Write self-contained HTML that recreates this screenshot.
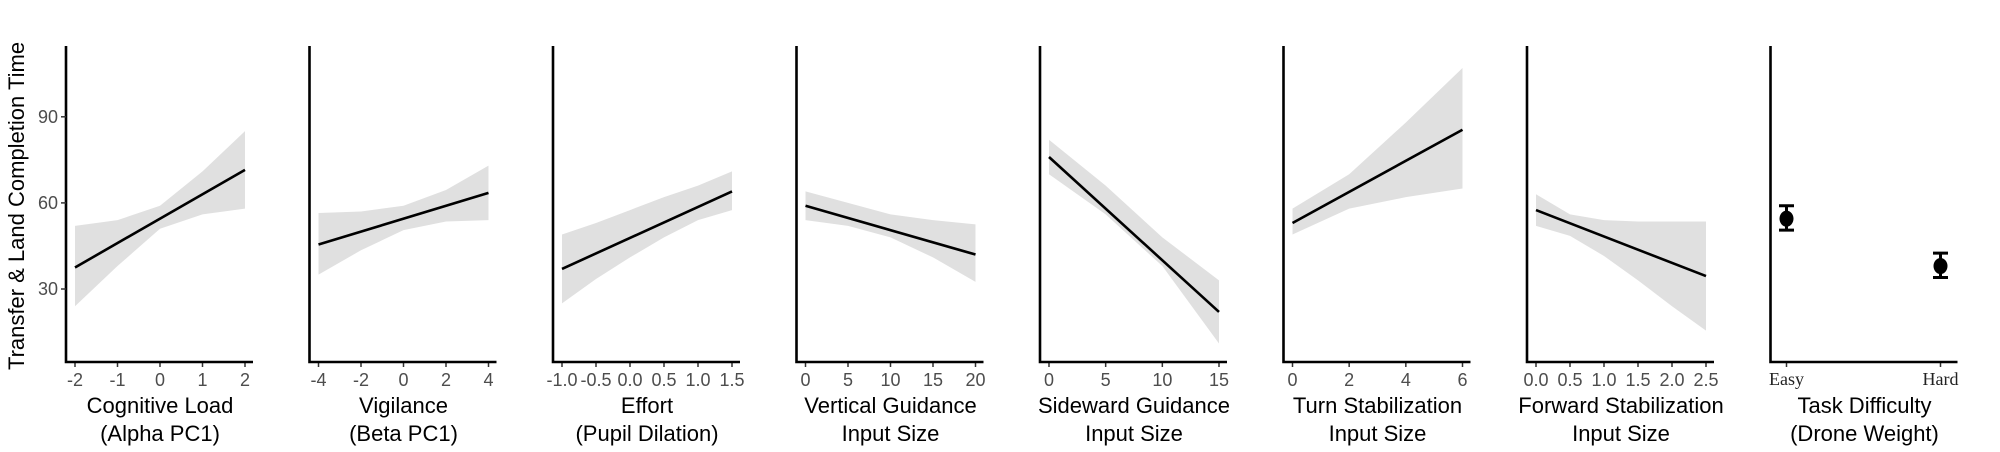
<!DOCTYPE html>
<html><head><meta charset="utf-8"><style>
html,body{margin:0;padding:0;background:#fff;}
svg{display:block;}
</style></head><body>
<svg id="chart" width="2000" height="452" viewBox="0 0 2000 452" xmlns="http://www.w3.org/2000/svg">
<text transform="translate(24,206) rotate(-90)" text-anchor="middle" font-family="Liberation Sans, sans-serif" font-size="22" fill="#000">Transfer &amp; Land Completion Time</text>
</svg>
<script>
// y scale shared
const yTicks = [30, 60, 90];
// panel data
const p1X = [-2, -1, 0, 1, 2], p1Up = [52, 54, 59, 71, 85], p1Lo = [24, 38, 51, 56, 58], p1Line = [37.5, 71.5];
const p2X = [-4, -2, 0, 2, 4], p2Up = [56.5, 57, 59, 64.5, 73], p2Lo = [35, 43.5, 50.5, 53.5, 54], p2Line = [45.5, 63.5];
const p3X = [-1, -0.5, 0, 0.5, 1, 1.5], p3Up = [49, 53, 57.5, 62, 66, 71], p3Lo = [25, 33.5, 41, 48, 54, 57.5], p3Line = [37, 64];
const p4X = [0, 5, 10, 15, 20], p4Up = [64, 60, 56, 54, 52.5], p4Lo = [54, 52, 48, 41, 32.5], p4Line = [59, 42];
const p5X = [0, 5, 10, 15], p5Up = [82, 66, 48, 33], p5Lo = [70, 56, 38, 11], p5Line = [76, 22];
const p6X = [0, 2, 4, 6], p6Up = [58, 70, 88, 107], p6Lo = [49, 58, 62, 65], p6Line = [53, 85.5];
const p7X = [0, 0.5, 1, 1.5, 2, 2.5], p7Up = [63, 56, 54, 53.5, 53.5, 53.5], p7Lo = [52, 48.5, 41.5, 33, 24, 15.5], p7Line = [57.5, 34.5];
const p1Ticks = ["-2","-1","0","1","2"], p2Ticks = ["-4","-2","0","2","4"], p3Ticks = ["-1.0","-0.5","0.0","0.5","1.0","1.5"];
const p4Ticks = ["0","5","10","15","20"], p5Ticks = ["0","5","10","15"], p6Ticks = ["0","2","4","6"], p7Ticks = ["0.0","0.5","1.0","1.5","2.0","2.5"];
const titles = [["Cognitive Load","(Alpha PC1)"],["Vigilance","(Beta PC1)"],["Effort","(Pupil Dilation)"],["Vertical Guidance","Input Size"],["Sideward Guidance","Input Size"],["Turn Stabilization","Input Size"],["Forward Stabilization","Input Size"],["Task Difficulty","(Drone Weight)"]];
const catLabels = ["Easy", "Hard"];
const catMean = [54.5, 38], catLo = [50.5, 34], catHi = [59, 42.5];

const NS = "http://www.w3.org/2000/svg";
const svg = document.getElementById("chart");
const Y0 = 362, Ytop = 46;
function y(v){ return 289 - (v - 30) * 2.87; }
function mk(tag, attrs, parent){ const e = document.createElementNS(NS, tag); for (const k in attrs) e.setAttribute(k, attrs[k]); (parent||svg).appendChild(e); return e; }

const panels = [
 [p1X,p1Up,p1Lo,p1Line,p1Ticks],[p2X,p2Up,p2Lo,p2Line,p2Ticks],[p3X,p3Up,p3Lo,p3Line,p3Ticks],
 [p4X,p4Up,p4Lo,p4Line,p4Ticks],[p5X,p5Up,p5Lo,p5Line,p5Ticks],[p6X,p6Up,p6Lo,p6Line,p6Ticks],[p7X,p7Up,p7Lo,p7Line,p7Ticks]
];

for (let i = 0; i < 8; i++) {
  const ax = 66 + i * 243.5;
  const g = mk("g", {});
  
  
  if (i < 7) {
    const [xs, up, lo, line, ticks] = panels[i];
    const xmin = xs[0], xmax = xs[xs.length - 1];
    const xs_ = v => ax + 9 + (v - xmin) / (xmax - xmin) * 170;
    let d = "";
    xs.forEach((v, j) => { d += (j ? "L" : "M") + xs_(v) + "," + y(up[j]); });
    for (let j = xs.length - 1; j >= 0; j--) d += "L" + xs_(xs[j]) + "," + y(lo[j]);
    const band = mk("path", {d: d + "Z", fill: "#e0e0e0"}, g);
    
    
    const ln = mk("line", {x1: xs_(xmin), y1: y(line[0]), x2: xs_(xmax), y2: y(line[1]), stroke: "#000", "stroke-width": 2.6}, g);
    
    
    ticks.forEach(t => {
      const tx = xs_(parseFloat(t));
      mk("line", {x1: tx, y1: Y0, x2: tx, y2: Y0 + 5, stroke: "#333", "stroke-width": 1.5}, g);
      const tl = mk("text", {x: tx, y: 386, "text-anchor": "middle", "font-family": "Liberation Sans, sans-serif", "font-size": 18, fill: "#4d4d4d"}, g);
      tl.textContent = t;
      
      
    });
  } else {
    const cx = [ax + 16, ax + 170];
    catLabels.forEach((c, j) => {
      mk("line", {x1: cx[j], y1: Y0, x2: cx[j], y2: Y0 + 5, stroke: "#333", "stroke-width": 1.5}, g);
      const tl = mk("text", {x: cx[j], y: 385, "text-anchor": "middle", "font-family": "Liberation Serif, serif", "font-size": 18, fill: "#222"}, g);
      tl.textContent = c;
      
      
      const eb = mk("path", {d: `M${cx[j]-7.5},${y(catHi[j])}H${cx[j]+7.5}M${cx[j]},${y(catHi[j])}V${y(catLo[j])}M${cx[j]-7.5},${y(catLo[j])}H${cx[j]+7.5}`, stroke: "#000", "stroke-width": 3, fill: "none"}, g);
      
      
      const pt = mk("ellipse", {cx: cx[j], cy: y(catMean[j]), rx: 7, ry: 8, fill: "#000"}, g);
      
      
    });
  }
  const axes = mk("path", {d: `M${ax},${Ytop}V${Y0}H${ax + 187}`, stroke: "#000", "stroke-width": 2.6, fill: "none"}, g);
  
  
  titles[i].forEach((t, k) => {
    const tt = mk("text", {x: ax + 94, y: 413 + k * 28, "text-anchor": "middle", "font-family": "Liberation Sans, sans-serif", "font-size": 22, fill: "#000"}, g);
    tt.textContent = t;
    
    
  });
  if (i === 0) {
    yTicks.forEach(v => {
      mk("line", {x1: ax - 5, y1: y(v), x2: ax, y2: y(v), stroke: "#333", "stroke-width": 1.5}, g);
      const yl = mk("text", {x: ax - 8, y: y(v) + 6, "text-anchor": "end", "font-family": "Liberation Sans, sans-serif", "font-size": 18, fill: "#4d4d4d"}, g);
      yl.textContent = v;
      
      
    });
  }
}
</script>
</body></html>
